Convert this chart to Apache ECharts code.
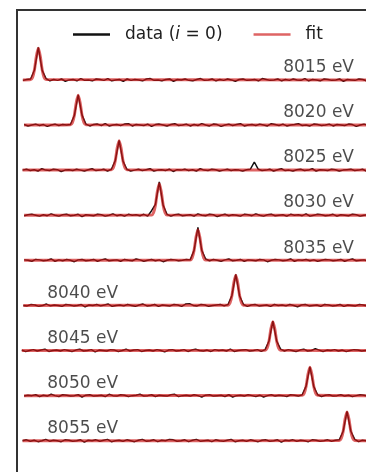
<!DOCTYPE html>
<html><head><meta charset="utf-8">
<script src="https://cdn.jsdelivr.net/npm/echarts@6/dist/echarts.min.js"></script>
<style>html,body{margin:0;padding:0;background:#fff}#c{width:366px;height:472px}</style>
</head><body><div id="c"></div>
<script>
// ---- data ----
const energyLabels = ['8015 eV','8020 eV','8025 eV','8030 eV','8035 eV','8040 eV','8045 eV','8050 eV','8055 eV'];
const peakEnergies = [8015.04, 8020.2, 8025.5, 8030.7, 8035.7, 8040.6, 8045.4, 8050.2, 8055.0];
const fitHeights = [0.70, 0.66, 0.65, 0.70, 0.68, 0.67, 0.64, 0.63, 0.64];
const fitProfileOffsets = [-1, -0.75, -0.5, -0.25, 0, 0.25, 0.5, 0.75, 1];
const fitProfile = [0.01, 0.08, 0.32, 0.75, 1, 0.75, 0.32, 0.08, 0.01];
const sampleStep = 0.5;

const trace8015 = [-0.01,0.01,0.02,0.22,0.72,0.21,0.03,-0.02,0.01,-0.01,
 0.02,-0.03,0.00,0.01,-0.02,0.03,-0.01,0.00,-0.02,0.02,
 0.01,-0.01,0.03,-0.02,0.00,0.01,-0.03,0.02,-0.01,0.01,
 0.00,-0.02,0.02,0.03,-0.01,0.00,-0.02,0.01,0.02,-0.03,
 0.01,0.00,0.02,-0.01,-0.02,0.01,0.03,-0.01,0.00,0.02,
 -0.02,0.01,-0.01,0.02,0.00,-0.03,0.01,0.02,-0.01,0.00,
 0.01,-0.02,0.03,0.01,-0.01,0.00,0.02,-0.02,0.01,-0.01,
 0.02,0.00,-0.01,0.03,-0.02,0.01,0.00,-0.02,0.02,0.01,
 -0.01,0.00,0.02,-0.03,0.01,0.00,-0.01,0.02,0.01,-0.02,0.00];
const trace8020 = [0.01,-0.02,0.00,0.02,-0.01,0.01,-0.03,0.00,0.02,-0.01,
 0.01,0.00,0.01,0.21,0.67,0.22,0.02,-0.02,0.01,0.02,
 -0.01,0.03,-0.02,0.00,0.01,-0.01,0.02,0.03,-0.02,0.01,
 0.00,-0.01,0.02,-0.03,0.01,0.02,0.00,-0.02,0.01,0.03,
 -0.01,0.00,0.02,-0.02,0.01,-0.01,0.03,0.00,-0.02,0.02,
 0.01,-0.03,0.00,0.02,-0.01,0.01,0.03,-0.02,0.00,0.01,
 -0.01,0.02,0.00,-0.02,0.03,0.01,-0.01,0.02,-0.02,0.00,
 0.01,0.03,-0.01,0.00,-0.02,0.02,0.01,-0.01,0.00,0.02,
 -0.02,0.01,0.00,-0.01,0.02,0.01,-0.03,0.00,0.02,-0.01,0.01];
const trace8025 = [0.00,0.02,-0.01,0.01,-0.02,0.03,0.00,-0.01,0.02,0.01,
 -0.03,0.00,0.01,-0.01,0.02,0.00,-0.02,0.01,0.03,-0.01,
 0.00,0.02,-0.02,0.02,0.21,0.66,0.20,0.02,-0.02,0.00,
 0.02,-0.01,0.01,0.03,-0.02,0.00,0.01,-0.01,0.02,-0.03,
 0.01,0.00,0.02,-0.01,0.01,-0.02,0.03,0.00,-0.01,0.02,
 0.01,-0.02,0.00,0.02,-0.01,0.01,0.00,-0.02,0.01,0.02,
 0.18,0.02,-0.01,0.00,0.02,-0.02,0.01,0.03,-0.01,0.00,
 -0.02,0.01,0.02,-0.01,0.00,0.03,-0.02,0.01,0.00,-0.01,
 0.02,0.01,-0.02,0.00,0.01,0.02,-0.01,0.00,0.02,-0.02,0.01];
const trace8030 = [-0.01,0.01,0.02,0.00,-0.02,0.01,-0.01,0.03,0.00,-0.02,
 0.01,0.02,-0.01,0.00,0.02,-0.03,0.01,0.00,-0.01,0.02,
 0.01,-0.02,0.00,0.03,-0.01,0.01,-0.02,0.02,0.00,0.01,
 -0.01,0.02,-0.02,0.10,0.24,0.74,0.22,0.02,-0.02,0.01,
 0.02,-0.01,0.00,0.01,-0.02,0.03,0.00,-0.01,0.02,0.01,
 -0.03,0.00,0.02,-0.01,0.01,0.00,-0.02,0.02,0.01,-0.01,
 0.03,0.00,-0.02,0.01,0.02,-0.01,0.00,0.01,-0.02,0.02,
 0.00,0.01,-0.01,0.03,-0.02,0.00,0.02,0.01,-0.01,0.00,
 0.02,-0.02,0.01,0.00,-0.01,0.02,0.01,-0.02,0.00,0.01,0.00];
const trace8035 = [0.01,0.00,-0.02,0.02,0.01,-0.01,0.00,0.03,-0.02,0.01,
 -0.01,0.02,0.00,-0.03,0.01,0.02,-0.01,0.00,0.02,-0.02,
 0.01,0.03,-0.01,0.00,0.01,-0.02,0.02,0.00,-0.01,0.03,
 0.01,-0.02,0.00,0.02,-0.01,0.01,-0.03,0.00,0.02,0.01,
 -0.01,0.00,0.02,0.01,0.22,0.73,0.22,0.03,-0.01,0.02,
 0.00,-0.02,0.01,0.03,-0.01,0.00,0.02,-0.02,0.01,0.00,
 -0.01,0.02,0.01,-0.03,0.00,0.02,0.01,-0.01,0.00,0.03,
 -0.02,0.01,0.00,0.02,-0.01,0.01,-0.02,0.00,0.02,0.01,
 -0.01,0.00,0.02,-0.02,0.01,0.03,-0.01,0.00,0.01,-0.02,0.01];
const trace8040 = [0.00,-0.01,0.02,0.01,-0.02,0.00,0.03,-0.01,0.01,0.00,
 -0.02,0.02,0.01,-0.01,0.00,0.02,-0.03,0.01,0.00,0.02,
 -0.01,0.01,0.03,-0.02,0.00,0.01,-0.01,0.02,0.00,-0.02,
 0.01,0.03,-0.01,0.00,0.02,-0.02,0.01,0.00,-0.01,0.02,
 0.01,-0.02,0.03,0.04,0.00,-0.01,0.02,0.01,-0.02,0.00,
 0.01,0.02,-0.01,0.02,0.22,0.69,0.21,0.02,-0.02,0.01,
 0.02,-0.01,0.00,0.01,-0.02,0.02,0.00,0.01,-0.01,0.02,
 0.00,-0.03,0.01,0.02,-0.01,0.00,0.01,-0.02,0.02,0.01,
 -0.01,0.00,0.02,-0.02,0.01,0.00,-0.01,0.02,0.01,-0.01,0.00];
const trace8045 = [0.01,-0.02,0.00,0.02,-0.01,0.01,0.03,-0.02,0.00,0.01,
 -0.01,0.02,0.00,-0.02,0.01,0.03,-0.01,0.00,0.02,-0.03,
 0.01,0.00,-0.01,0.02,0.01,-0.02,0.00,0.03,-0.01,0.01,
 0.02,-0.02,0.00,0.01,-0.01,0.02,0.00,-0.03,0.01,0.02,
 -0.01,0.00,0.02,-0.02,0.01,0.03,0.00,-0.01,0.01,-0.02,
 0.02,0.00,0.01,-0.01,0.03,-0.02,0.00,0.01,0.02,-0.01,
 0.00,0.02,-0.02,0.02,0.21,0.65,0.21,0.03,-0.01,0.02,
 0.00,-0.02,0.01,0.03,-0.01,0.00,0.04,0.01,-0.02,0.01,
 0.00,0.02,-0.01,0.01,-0.02,0.00,0.02,0.01,-0.01,0.00,0.01];
const trace8050 = [-0.01,0.01,0.00,0.02,-0.02,0.01,-0.01,0.03,0.00,-0.02,
 0.02,0.01,-0.01,0.00,0.02,-0.03,0.01,0.02,-0.01,0.00,
 0.01,-0.02,0.03,0.00,-0.01,0.02,0.01,-0.02,0.00,0.01,
 0.03,-0.01,0.00,0.02,-0.02,0.01,0.00,-0.01,0.02,0.03,
 -0.02,0.00,0.01,-0.01,0.02,0.00,-0.03,0.01,0.02,-0.01,
 0.00,0.01,-0.02,0.02,-0.03,0.00,0.01,-0.01,0.02,0.00,
 -0.02,0.01,-0.03,0.00,0.02,-0.01,0.01,0.00,-0.02,0.02,
 0.01,-0.01,0.02,0.21,0.64,0.20,0.02,-0.02,0.01,0.02,
 -0.01,0.00,0.02,-0.01,0.01,-0.02,0.00,0.02,0.01,-0.01,0.00];
const trace8055 = [0.00,0.02,-0.01,0.01,-0.02,0.00,0.03,-0.01,0.01,0.00,
 -0.02,0.02,0.01,-0.01,0.00,0.02,-0.03,0.01,0.00,0.02,
 -0.01,0.01,0.03,-0.02,0.00,0.01,-0.01,0.02,0.00,-0.02,
 0.01,0.03,-0.01,0.00,0.02,-0.02,0.01,0.00,0.03,0.02,
 -0.01,0.00,0.02,-0.02,0.01,0.03,-0.01,0.00,0.01,-0.02,
 0.02,0.00,-0.01,0.01,0.03,-0.02,0.00,0.01,-0.01,0.02,
 0.00,-0.02,0.01,0.02,-0.01,0.00,0.02,-0.03,0.01,0.00,
 0.02,-0.01,0.01,0.00,-0.02,0.02,0.01,-0.01,0.00,0.02,
 -0.01,0.01,0.02,0.21,0.65,0.21,0.03,-0.02,0.01,0.00,-0.01];

const traces = [trace8015, trace8020, trace8025, trace8030, trace8035, trace8040, trace8045, trace8050, trace8055];

// ---- build chart ----
const DATA_COLOR = '#111';
const FIT_COLOR = 'rgba(205,20,20,0.66)';
const FONT = 'DejaVu Sans';
const TEXT_COLOR = '#1e1e1e';

const series = [];
traces.forEach((vals, k) => {
  const offset = traces.length - 1 - k;
  let pk = 0;
  vals.forEach((v, j) => { if (v > vals[pk]) pk = j; });
  const pts = vals.map((v, j) => [peakEnergies[k] + (j - pk) * sampleStep, offset + v]);
  series.push({
    name: 'data', type: 'line', data: pts, symbol: 'none', silent: true, z: 2,
    itemStyle: { color: DATA_COLOR }, lineStyle: { color: DATA_COLOR, width: 1.5 }
  });
  const fit = [[pts[0][0], offset]];
  fitProfileOffsets.forEach((d, i) => fit.push([peakEnergies[k] + d, offset + fitHeights[k] * fitProfile[i]]));
  fit.push([pts[pts.length - 1][0], offset]);
  series.push({
    name: 'fit', type: 'line', data: fit, symbol: 'none', silent: true, z: 3, smooth: 0.25,
    itemStyle: { color: FIT_COLOR }, lineStyle: { color: FIT_COLOR, width: 3 }
  });
});

const labelData = energyLabels.map((t, k) => {
  const offset = traces.length - 1 - k;
  const right = k < 5;
  return { name: t, value: [right ? 8055.9 : 8016.2, offset + 0.27], label: { position: right ? 'left' : 'right' } };
});
series.push({
  type: 'scatter', data: labelData, symbolSize: 0, silent: true, z: 5,
  itemStyle: { color: 'transparent' },
  label: { show: true, formatter: '{b}', distance: 0, fontSize: 17, color: TEXT_COLOR, fontFamily: FONT }
});

const chart = echarts.init(document.getElementById('c'), null, { renderer: 'canvas' });
chart.setOption({
  animation: false,
  backgroundColor: '#fff',
  grid: { left: 17, top: 10, width: 400, height: 498.4, outerBoundsMode: 'none', containLabel: false,
          show: true, borderColor: '#333', borderWidth: 2, backgroundColor: 'transparent' },
  xAxis: { type: 'value', min: 8012.28, max: 8064.06, show: false },
  yAxis: { type: 'value', min: -1.5, max: 9.55, show: false },
  legend: {
    left: 68, top: 21, itemWidth: 37, itemHeight: 2.5, itemGap: 31, icon: 'rect', selectedMode: false,
    data: [{ name: 'data', itemStyle: { color: DATA_COLOR } }, { name: 'fit', itemStyle: { color: FIT_COLOR } }],
    formatter: n => n === 'data' ? '{n|data (}{i|i}{n| = 0)}' : '{n|fit}',
    textStyle: {
      padding: [0, 0, 0, 10],
      rich: {
        n: { fontSize: 17, color: TEXT_COLOR, fontFamily: FONT },
        i: { fontSize: 17, color: TEXT_COLOR, fontFamily: FONT, fontStyle: 'italic' }
      }
    }
  },
  series: series
});
</script>
</body></html>
